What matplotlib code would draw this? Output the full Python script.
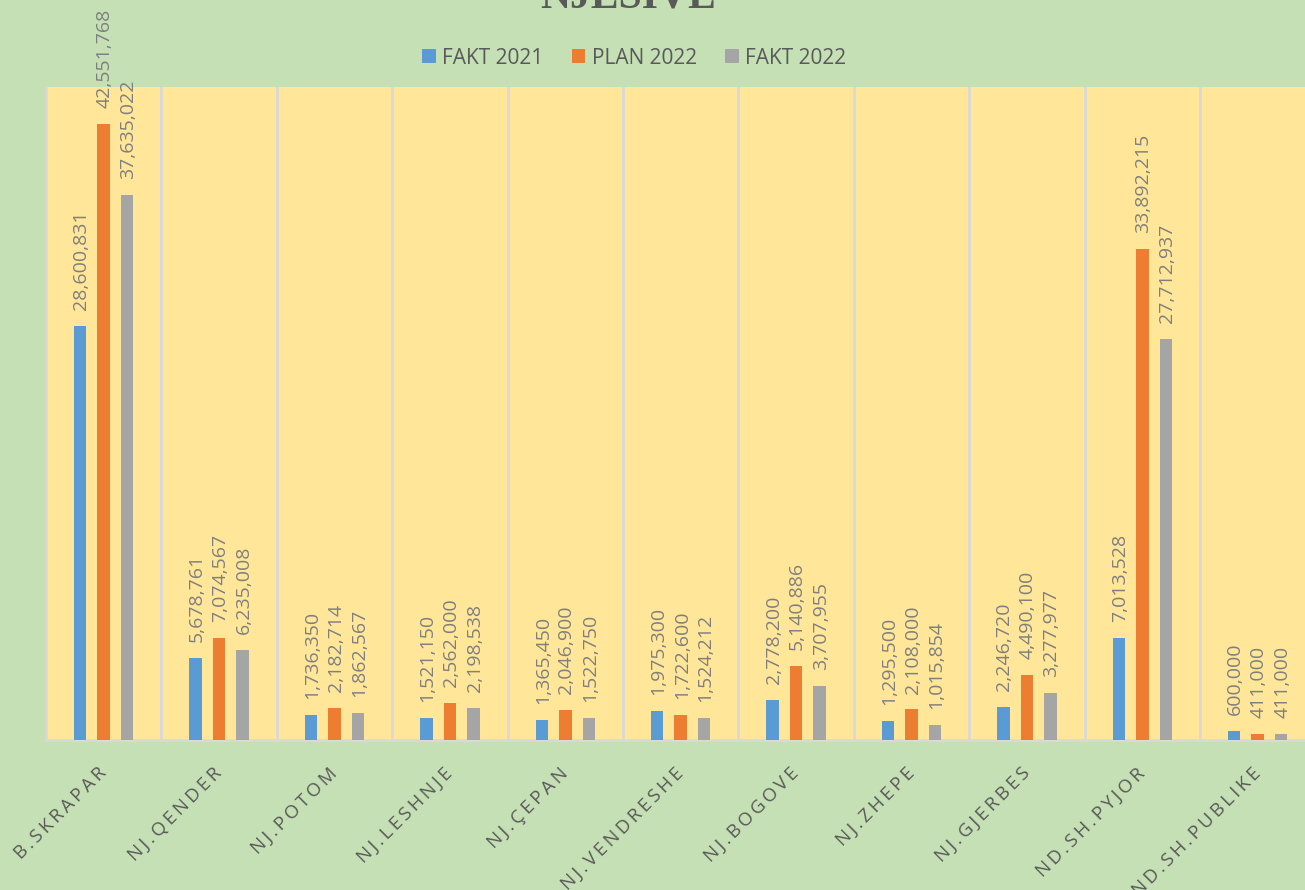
import matplotlib
matplotlib.use("Agg")
import matplotlib.pyplot as plt
import numpy as np
from matplotlib.patches import Patch

categories = ["B.SKRAPAR", "NJ.QENDER", "NJ.POTOM", "NJ.LESHNJE", "NJ.ÇEPAN",
              "NJ.VENDRESHE", "NJ.BOGOVE", "NJ.ZHEPE", "NJ.GJERBES",
              "ND.SH.PYJOR", "ND.SH.PUBLIKE"]
fakt_2021 = [28600831, 5678761, 1736350, 1521150, 1365450, 1975300,
             2778200, 1295500, 2246720, 7013528, 600000]
plan_2022 = [42551768, 7074567, 2182714, 2562000, 2046900, 1722600,
             5140886, 2108000, 4490100, 33892215, 411000]
fakt_2022 = [37635022, 6235008, 1862567, 2198538, 1522750, 1524212,
             3707955, 1015854, 3277977, 27712937, 411000]
series_names = ["FAKT 2021", "PLAN 2022", "FAKT 2022"]
title = "NJESIVE"

colors = ["#5B9BD5", "#ED7D31", "#A5A5A5"]
bg = "#C5E0B4"
plot_bg = "#FFE699"
grid_c = "#D9D9D9"

W, H = 1305, 890
fig = plt.figure(figsize=(W / 100, H / 100), dpi=100, facecolor=bg)
left, right, top, bottom = 46, 46 + 11 * 115.4, 87, 740
ax = fig.add_axes([left / W, 1 - bottom / H, (right - left) / W, (bottom - top) / H])
ax.set_facecolor(plot_bg)

x = np.arange(len(categories))
bw = 0.108
offs = [-0.204, 0.0, 0.204]
for vals, off, c in zip([fakt_2021, plan_2022, fakt_2022], offs, colors):
    bars = ax.bar(x + off, vals, width=bw, color=c, zorder=3)
    for xi, v in zip(x + off, vals):
        ax.annotate(f"{v:,}", (xi, v), xytext=(0.8, 11.5), textcoords="offset points",
                    rotation=90, ha="center", va="bottom", fontsize=14,
                    family=["Open Sans", "DejaVu Sans"], color="#7F7F7F",
                    annotation_clip=False, clip_on=False)

ax.set_xlim(-0.5, len(categories) - 0.5)
ax.set_ylim(0, 45100000)
for b in np.arange(-0.5, len(categories) + 0.5, 1.0):
    ax.axvline(b, color=grid_c, lw=2, zorder=1)
for s in ["top", "right", "left"]:
    ax.spines[s].set_visible(False)
ax.spines["bottom"].set_color(grid_c)
ax.spines["bottom"].set_linewidth(2)
ax.set_yticks([])
ax.set_xticks(x)
spaced = ["\u2009".join(list(c)) for c in categories]
ax.set_xticklabels(spaced, rotation=45, ha="right", va="center", rotation_mode="anchor",
                   fontsize=13.5, family=["Open Sans", "DejaVu Sans"], color="#595959")
ax.tick_params(axis="x", length=0, pad=22)

handles = [Patch(facecolor=c, edgecolor="none") for c in colors]
fig.legend(handles, series_names, loc="center", bbox_to_anchor=(634 / W, 1 - 58 / H),
           ncol=3, frameon=False, handlelength=0.67, handleheight=0.67,
           handletextpad=0.29, columnspacing=1.35,
           prop={"family": "Open Sans", "size": 15}, labelcolor="#595959")

fig.text(628 / W, 1 - 7 / H, title, ha="center", va="baseline", fontsize=30,
         fontweight="bold", family="Liberation Serif", color="#595959")

fig.savefig("out.png", dpi=100, facecolor=bg)
